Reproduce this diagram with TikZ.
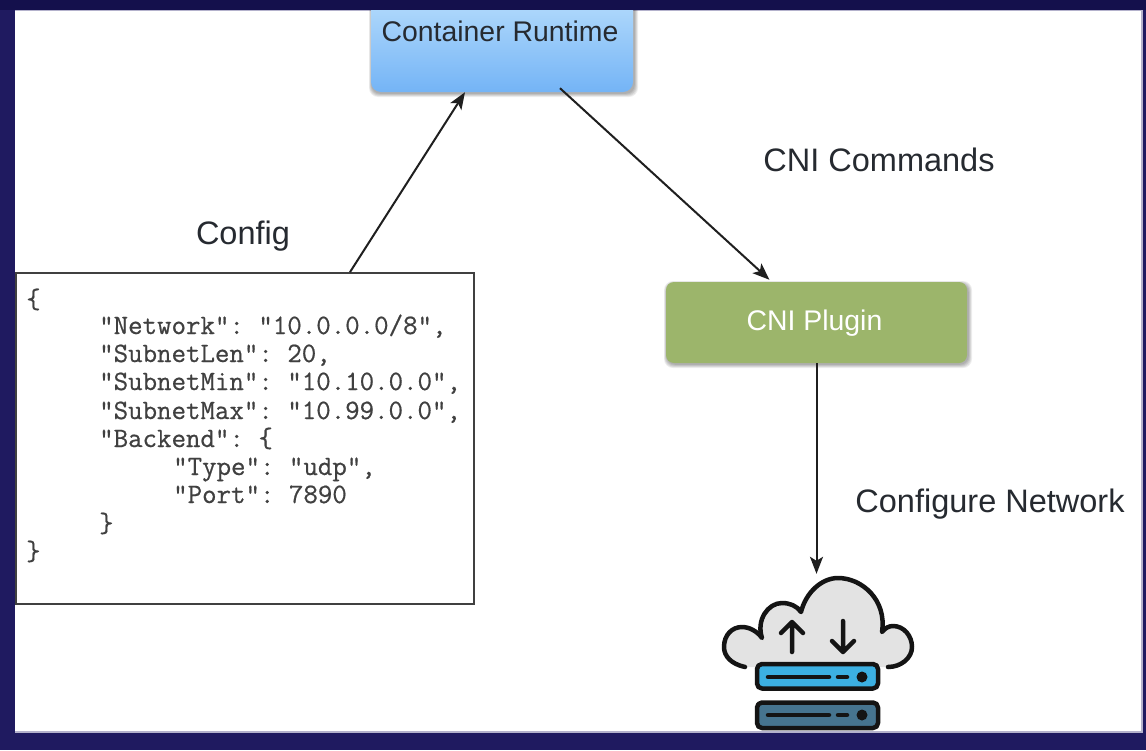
\documentclass[tikz,border=0pt]{standalone}
\usepackage{fontspec}
\setmainfont{Liberation Sans}
\setmonofont[FakeBold=0.6]{Latin Modern Mono}
\usetikzlibrary{calc,arrows.meta}
\definecolor{frameTop}{HTML}{14104C}
\definecolor{frameSide}{HTML}{1F1A60}
\definecolor{inkText}{HTML}{262A30}
\definecolor{frameEdge}{HTML}{B4B2CC}
\tikzset{
  x=1pt,y=-1pt,
  conn/.style={draw=black!88,line width=2pt,-{Stealth[length=17pt,width=13pt,inset=4pt]}},
  lbl/.style={font=\fontsize{32.5}{36}\selectfont,text=inkText,inner sep=0pt},
  boxtext/.style={font=\fontsize{28.4}{32}\selectfont,inner sep=0pt},
  jsonline/.style={font=\ttfamily\fontsize{28.1}{28}\selectfont,text=black!75,inner sep=0pt,anchor=base west},
  iconline/.style={line width=4.5pt,line cap=round,line join=round,draw=black!92},
  server/.style={iconline,rounded corners=5pt},
}
\newcommand{\softshadow}[4]{%
  \foreach \g in {5,4,3,2,1}{%
    \fill[black,opacity=0.07,rounded corners=9pt] ($(#1,#2)+(1-0.6*\g,2-0.6*\g)$) rectangle ($(#3,#4)+(1+0.8*\g,1+0.8*\g)$);
  }%
}
\begin{document}
\begin{tikzpicture}
\useasboundingbox (0,0) rectangle (1146,750);
\fill[frameSide] (0,0) rectangle (1146,750);
\fill[frameTop] (0,0) rectangle (1146,10);
\fill[frameEdge] (15,9.5) rectangle (1143,733);
\fill[white] (15,11) rectangle (1141,731);

% Container Runtime box
\softshadow{371}{-10}{633}{92}
\node[rounded corners=10pt,minimum width=262pt,minimum height=102pt,inner sep=0pt,
  top color={rgb,255:red,185;green,222;blue,252},bottom color={rgb,255:red,116;green,180;blue,246}] (runtime) at (502,41) {};
\fill[frameTop] (300,-12) rectangle (700,10);
\node[boxtext,text=inkText] (runtimetxt) at (500,31) {Container Runtime};

% CNI plugin
\softshadow{666}{282}{967}{363}
\node[fill={rgb,255:red,156;green,181;blue,107},rounded corners=8pt,minimum width=301pt,minimum height=81pt,inner sep=0pt] (plugin) at (816.5,322.5) {};
\node[boxtext,text=white] (plugintxt) at (814.5,323) {CNI Plugin};

% JSON box
\node[draw=black!75,line width=1.8pt,fill=white,minimum width=458pt,minimum height=331pt,inner sep=0pt] (json) at (245,438.5) {};
\node[jsonline] (j1) at (26,308) {\{};
\node[jsonline] (j2) at (99,334) {"Network": "10.0.0.0/8",};
\node[jsonline] (j3) at (99,362) {"SubnetLen": 20,};
\node[jsonline] (j4) at (99,390) {"SubnetMin": "10.10.0.0",};
\node[jsonline] (j5) at (99,419) {"SubnetMax": "10.99.0.0",};
\node[jsonline] (j6) at (99,447) {"Backend": \{};
\node[jsonline] (j7) at (173,475) {"Type": "udp",};
\node[jsonline] (j8) at (173,503) {"Port": 7890};
\node[jsonline] (j9) at (99,532) {\}};
\node[jsonline] (j10) at (26,560) {\}};

% labels
\node[lbl] (config) at (243,236) {Config};
\node[lbl] (cnicmd) at (879,160) {CNI Commands};
\node[lbl] (confnet) at (990,504) {Configure Network};

% cloud icon
\begin{scope}
\clip (700,560) rectangle (930,731);
\fill[gray!22] (745,667) .. controls (731,664) and (724,656) .. (724,647) .. controls (724,635) and (732,627) .. (742,627) .. controls (749,627) and (757,631) .. (762,638) .. controls (756,620) and (768,603) .. (782,603) .. controls (790,603) and (797,606) .. (801,612) .. controls (806,592) and (822,578) .. (838,578) .. controls (862,578) and (887,600) .. (882,632) .. controls (885,628) and (889,626) .. (893,626) .. controls (904,626) and (912,636) .. (912,647) .. controls (912,658) and (901,667) .. (888,667) -- cycle;
\draw[iconline] (745,667) .. controls (731,664) and (724,656) .. (724,647) .. controls (724,635) and (732,627) .. (742,627) .. controls (749,627) and (757,631) .. (762,638) .. controls (756,620) and (768,603) .. (782,603) .. controls (790,603) and (797,606) .. (801,612) .. controls (806,592) and (822,578) .. (838,578) .. controls (862,578) and (887,600) .. (882,632) .. controls (885,628) and (889,626) .. (893,626) .. controls (904,626) and (912,636) .. (912,647) .. controls (912,658) and (901,667) .. (888,667);
% arrows in the cloud
\draw[iconline] (792,652) -- (792,622) (781,633) -- (792,622) -- (803,633);
\draw[iconline] (843,621) -- (843,652) (832,641) -- (843,652) -- (854,641);
% servers
\draw[server,fill={rgb,255:red,60;green,176;blue,226}] (757,664) rectangle (878,688.5);
\draw[iconline] (768,677) -- (829,677) (838,677) -- (847,677);
\fill[black!92] (862,677) circle (5.5);
\draw[server,fill={rgb,255:red,70;green,116;blue,143}] (757,702.5) rectangle (878,728);
\draw[iconline] (768,715) -- (829,715) (838,715) -- (847,715);
\fill[black!92] (862,715) circle (5.5);
\end{scope}
\node[minimum width=190pt,minimum height=160pt,inner sep=0pt] (cloud) at (816.5,654) {};

% connectors
\draw[conn] ($(json.north)+(105,0)$) -- ($(runtime.south)+(-37,0)$);
\draw[conn] ($(runtime.south)+(58,-4)$) -- ($(plugin.north)+(-47,-2)$);
\draw[conn] (plugin.south) -- (cloud.north);
\end{tikzpicture}
\end{document}
